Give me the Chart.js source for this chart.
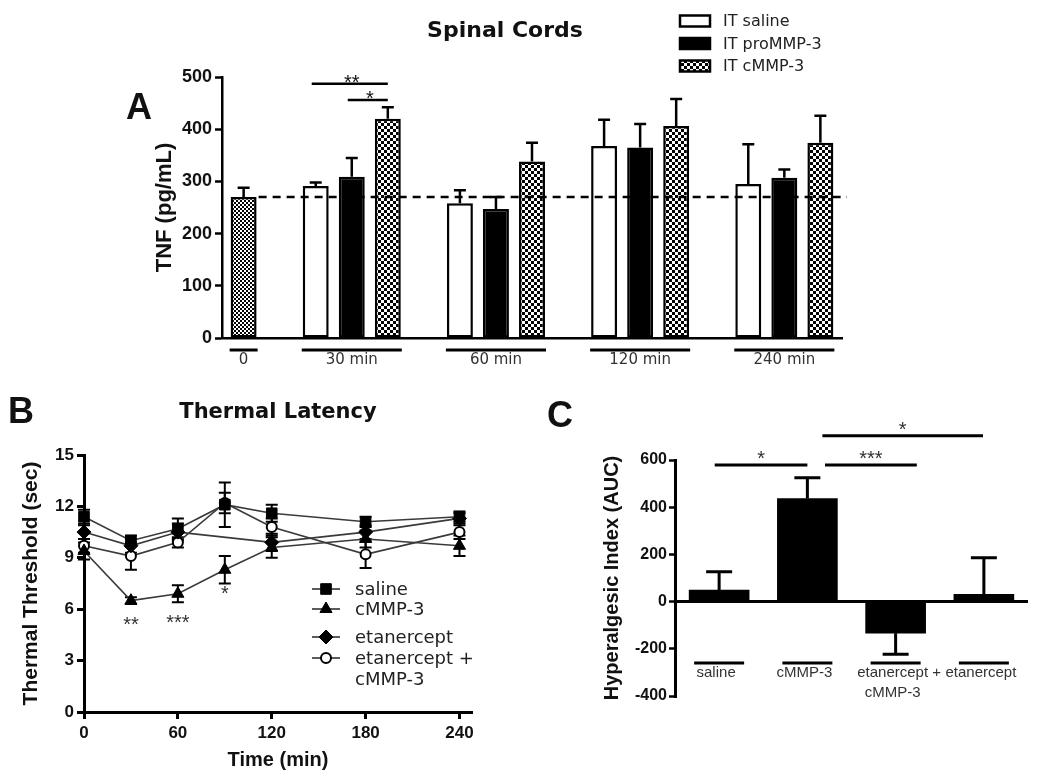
<!DOCTYPE html>
<html>
<head>
<meta charset="utf-8">
<script src="https://cdn.jsdelivr.net/npm/chart.js@4.4.1/dist/chart.umd.min.js"></script>
<style>
  html, body { margin: 0; padding: 0; background: #fff; }
  #page { position: relative; width: 1050px; height: 776px; overflow: hidden; }
  .panel { position: absolute; }
  #panelA { left: 0; top: 0; width: 1050px; height: 380px; }
  #panelB { left: 0; top: 380px; width: 520px; height: 396px; }
  #panelC { left: 520px; top: 380px; width: 530px; height: 396px; }
</style>
</head>
<body>
<div id="page">
  <div class="panel" id="panelA"><canvas id="chartA"></canvas></div>
  <div class="panel" id="panelB"><canvas id="chartB"></canvas></div>
  <div class="panel" id="panelC"><canvas id="chartC"></canvas></div>
</div>
<script>
// ---- panel A : TNF in spinal cords (mean, SEM)
const groupLabelsA = ['0', '30 min', '60 min', '120 min', '240 min'];
const baselineTNF = [270];
const baselineTNFErr = [18];
const salineTNF = [291, 258, 368, 295];
const salineTNFErr = [7, 25, 50, 76];
const proTNF = [309, 247, 365, 307];
const proTNFErr = [36, 23, 45, 16];
const cmmpTNF = [420, 338, 406, 374];
const cmmpTNFErr = [22, 36, 52, 52];
const baselineLevel = 270;
const sigA = [
    { from: 2, to: 4, y: 487, text: '**' },
    { from: 3, to: 4, y: 456, text: '*' }
];

// ---- panel B : thermal latency over time
const timesB = [0, 30, 60, 90, 120, 180, 240];
const xTicksB = [0, 60, 120, 180, 240];
const salineB = [11.4, 10.0, 10.7, 12.1, 11.6, 11.1, 11.4];
const salineBErr = [0.4, 0.3, 0.6, 1.3, 0.5, 0.3, 0.3];
const cmmpB = [9.4, 6.5, 6.9, 8.3, 9.6, 10.1, 9.7];
const cmmpBErr = [0.5, 0.2, 0.5, 0.8, 0.6, 0.5, 0.6];
const etaB = [10.5, 9.7, 10.5, null, 9.9, 10.5, 11.3];
const etaBErr = [0.4, 0.4, 0.5, null, 0.5, 0.4, 0.3];
const etaCmmpB = [9.7, 9.1, 9.9, 12.2, 10.8, 9.2, 10.5];
const etaCmmpBErr = [0.4, 0.8, 0.3, 0.6, 0.5, 0.8, 0.4];
const namesB = ['saline', 'cMMP-3', 'etanercept', ['etanercept +', 'cMMP-3']];
const starsB = [
    { x: 30, y: 5.4, text: '**' },
    { x: 60, y: 5.5, text: '***' },
    { x: 90, y: 7.2, text: '*' }
];

// ---- panel C : hyperalgesic index
const groupsC = [['saline'], ['cMMP-3'], ['etanercept +', 'cMMP-3'], ['etanercept']];
const aucC = [49, 437, -134, 31];
const aucCErr = [78, 88, 89, 155];
const sigC = [
    { from: -0.05, to: 1, y: 579, text: '*' },
    { from: 1.2, to: 2.24, y: 579, text: '***' },
    { from: 1.17, to: 2.99, y: 703, text: '*' }
];

// layout of the bars in panel A (slot units on the x scale)
const slotsA = [2, 6, 10, 14];
const groupCentersA = [0, 3, 7, 11, 15];
const groupSpansA = [[0, 0], [2, 4], [6, 8], [10, 12], [14, 16]];

const SANS = '"Liberation Sans", Arial, sans-serif';
const WIDE = '"DejaVu Sans", Verdana, sans-serif';

Chart.defaults.font.family = SANS;
Chart.defaults.color = '#111';
Chart.defaults.animation = false;

function makeChecker(cell) {
    const c = document.createElement('canvas');
    c.width = c.height = cell * 2;
    const g = c.getContext('2d');
    g.fillStyle = '#fff';
    g.fillRect(0, 0, cell * 2, cell * 2);
    g.fillStyle = '#000';
    g.fillRect(0, 0, cell, cell);
    g.fillRect(cell, cell, cell, cell);
    return g.createPattern(c, 'repeat');
}
const checker = makeChecker(3);
const fineChecker = makeChecker(2);

// error bars: one sided (direction of the mean) or both sides
function drawErrors(chart, opts) {
    const { ctx } = chart;
    const ys = chart.scales.y;
    const cap = opts.cap || 12;
    ctx.save();
    ctx.strokeStyle = '#000';
    ctx.lineWidth = opts.width || 2;
    chart.data.datasets.forEach((ds, di) => {
        if (!ds.errors) return;
        const meta = chart.getDatasetMeta(di);
        meta.data.forEach((el, i) => {
            const v = meta.controller.getParsed(i).y;
            const e = ds.errors[i];
            if (v == null || isNaN(v) || e == null) return;
            const dir = v < 0 ? -1 : 1;
            const lo = opts.both ? v - e : v;
            const hi = opts.both ? v + e : v + dir * e;
            const y1 = ys.getPixelForValue(lo), y2 = ys.getPixelForValue(hi);
            ctx.beginPath();
            ctx.moveTo(el.x, y1);
            ctx.lineTo(el.x, y2);
            ctx.moveTo(el.x - cap / 2, y2);
            ctx.lineTo(el.x + cap / 2, y2);
            if (opts.both) {
                ctx.moveTo(el.x - cap / 2, y1);
                ctx.lineTo(el.x + cap / 2, y1);
            }
            ctx.stroke();
        });
    });
    ctx.restore();
}
const errorBars = {
    id: 'errorBars',
    beforeDatasetsDraw(chart, args, opts) { if (opts.under) drawErrors(chart, opts); },
    afterDatasetsDraw(chart, args, opts) { if (!opts.under) drawErrors(chart, opts); }
};

function put(ctx, str, x, y, font, align, color, base) {
    ctx.font = font;
    ctx.textAlign = align || 'left';
    ctx.textBaseline = base || 'alphabetic';
    ctx.fillStyle = color || '#111';
    ctx.fillText(str, x, y);
}

// ---------------- panel A
const decorA = {
    id: 'decorA',
    afterDatasetsDraw(chart) {
        const { ctx, scales: { x, y }, chartArea } = chart;
        const yb = y.getPixelForValue(baselineLevel);
        ctx.save();
        ctx.strokeStyle = '#000';
        ctx.lineWidth = 2.5;
        ctx.setLineDash([8, 6]);
        ctx.beginPath();
        ctx.moveTo(x.getPixelForValue(0) + 15, yb);
        ctx.lineTo(chartArea.right + 5, yb);
        ctx.stroke();
        ctx.restore();
    },
    afterDraw(chart) {
        const { ctx, scales: { x, y }, chartArea } = chart;
        ctx.save();
        ctx.strokeStyle = '#000';
        ctx.lineWidth = 3;
        groupSpansA.forEach(([a, b]) => {
            ctx.beginPath();
            ctx.moveTo(x.getPixelForValue(a) - 14, chartArea.bottom + 12);
            ctx.lineTo(x.getPixelForValue(b) + 14, chartArea.bottom + 12);
            ctx.stroke();
        });
        ctx.lineWidth = 2.5;
        sigA.forEach(s => {
            const x1 = x.getPixelForValue(s.from), x2 = x.getPixelForValue(s.to);
            const yy = y.getPixelForValue(s.y);
            ctx.beginPath();
            ctx.moveTo(x1 - 4, yy);
            ctx.lineTo(x2, yy);
            ctx.stroke();
            put(ctx, s.text, (x1 + x2) / 2, yy + 5, '20px ' + SANS, 'center');
        });
        put(ctx, 'A', 126, 119, 'bold 36px ' + SANS);
        put(ctx, 'Spinal Cords', 505, 37, 'bold 22px ' + WIDE, 'center');
        // legend
        chart.data.datasets.slice(1).forEach((ds, i) => {
            const cy = 21 + i * 22.5;
            ctx.fillStyle = ds.backgroundColor;
            ctx.fillRect(680, cy - 5.5, 30, 11);
            ctx.lineWidth = 2.5;
            ctx.strokeStyle = '#000';
            ctx.strokeRect(680, cy - 5.5, 30, 11);
            put(ctx, ds.label, 723, cy + 1, '16px ' + WIDE, 'left', '#222', 'middle');
        });
        ctx.restore();
    }
};

const barStyle = {
    borderColor: '#000',
    borderWidth: 2.5,
    borderSkipped: false,
    grouped: false,
    categoryPercentage: 1,
    barPercentage: 0.72
};

new Chart(document.getElementById('chartA'), {
    type: 'bar',
    data: {
        datasets: [
            { label: 'baseline', data: baselineTNF.map(v => ({ x: 0, y: v })), errors: baselineTNFErr, backgroundColor: fineChecker, ...barStyle },
            { label: 'IT saline', data: salineTNF.map((v, i) => ({ x: slotsA[i], y: v })), errors: salineTNFErr, backgroundColor: '#fff', ...barStyle },
            { label: 'IT proMMP-3', data: proTNF.map((v, i) => ({ x: slotsA[i] + 1, y: v })), errors: proTNFErr, backgroundColor: '#000', ...barStyle },
            { label: 'IT cMMP-3', data: cmmpTNF.map((v, i) => ({ x: slotsA[i] + 2, y: v })), errors: cmmpTNFErr, backgroundColor: checker, ...barStyle }
        ]
    },
    options: {
        responsive: true,
        maintainAspectRatio: false,
        devicePixelRatio: 1,
        layout: { padding: { left: 122, right: 208, top: 77, bottom: 0 } },
        plugins: {
            legend: { display: false },
            tooltip: { enabled: false },
            errorBars: { cap: 12, width: 2.5 }
        },
        scales: {
            x: {
                type: 'linear', min: -0.6, max: 16.6, offset: false,
                afterBuildTicks: s => { s.ticks = groupCentersA.map(v => ({ value: v })); },
                afterFit: s => { s.height = 42; },
                grid: { display: false, drawTicks: false },
                border: { color: '#000', width: 2.5 },
                ticks: {
                    padding: 13, autoSkip: false, maxRotation: 0,
                    font: { family: WIDE, size: 15 }, color: '#333',
                    callback: v => groupLabelsA[groupCentersA.indexOf(v)] ?? ''
                }
            },
            y: {
                min: 0, max: 500,
                afterFit: s => { s.width = 100; },
                grid: { drawOnChartArea: false, tickLength: 7, tickColor: '#000', tickWidth: 2.5 },
                border: { color: '#000', width: 2.5 },
                ticks: { stepSize: 100, padding: 3, font: { size: 18, weight: 'bold' }, color: '#111' },
                title: { display: true, text: 'TNF (pg/mL)', font: { size: 22, weight: 'bold' }, color: '#111', padding: { top: 30 } }
            }
        }
    },
    plugins: [errorBars, decorA]
});

// ---------------- panel B
const seriesB = [
    { label: 'saline', values: salineB, errors: salineBErr, pointStyle: 'rect', radius: 7.5, fill: '#000' },
    { label: 'cMMP-3', values: cmmpB, errors: cmmpBErr, pointStyle: 'triangle', radius: 7, fill: '#000' },
    { label: 'etanercept', values: etaB, errors: etaBErr, pointStyle: 'rectRot', radius: 7, fill: '#000' },
    { label: 'etanercept + cMMP-3', values: etaCmmpB, errors: etaCmmpBErr, pointStyle: 'circle', radius: 5, fill: '#fff' }
];

const decorB = {
    id: 'decorB',
    afterDraw(chart) {
        const { ctx, scales: { x, y }, chartArea } = chart;
        ctx.save();
        put(ctx, 'B', 8, 43, 'bold 36px ' + SANS);
        put(ctx, 'Thermal Latency', (chartArea.left + chartArea.right) / 2, 38, 'bold 21px ' + WIDE, 'center');
        starsB.forEach(s => {
            put(ctx, s.text, x.getPixelForValue(s.x), y.getPixelForValue(s.y) + 11.5, '20px ' + SANS, 'center', '#333');
        });
        // legend
        const rows = [209, 229, 257, 278];
        seriesB.forEach((s, i) => {
            const cy = rows[i];
            ctx.strokeStyle = '#333';
            ctx.lineWidth = 1.6;
            ctx.beginPath();
            ctx.moveTo(312, cy);
            ctx.lineTo(340, cy);
            ctx.stroke();
            ctx.fillStyle = s.fill;
            ctx.strokeStyle = '#000';
            ctx.lineWidth = s.fill === '#fff' ? 2 : 1;
            Chart.helpers.drawPoint(ctx, { pointStyle: s.pointStyle, radius: s.radius, rotation: 0, borderWidth: ctx.lineWidth }, 326, cy);
            const name = namesB[i];
            const lines = Array.isArray(name) ? name : [name];
            lines.forEach((t, k) => put(ctx, t, 355, cy + 1 + k * 21, '18px ' + WIDE, 'left', '#222', 'middle'));
        });
        ctx.restore();
    }
};

new Chart(document.getElementById('chartB'), {
    type: 'line',
    data: {
        datasets: seriesB.map(s => ({
            label: s.label,
            data: timesB.map((t, i) => ({ x: t, y: s.values[i] })),
            errors: s.errors,
            borderColor: '#3a3a3a',
            borderWidth: 1.6,
            spanGaps: true,
            pointStyle: s.pointStyle,
            pointRadius: s.radius,
            pointBackgroundColor: s.fill,
            pointBorderColor: '#000',
            pointBorderWidth: s.fill === '#fff' ? 2 : 1,
            clip: false
        }))
    },
    options: {
        responsive: true,
        maintainAspectRatio: false,
        devicePixelRatio: 1,
        layout: { padding: { left: 14, right: 48, top: 75, bottom: 4 } },
        plugins: {
            legend: { display: false },
            tooltip: { enabled: false },
            errorBars: { cap: 12, width: 2, both: true, under: true }
        },
        scales: {
            x: {
                type: 'linear', min: 0, max: 248,
                afterBuildTicks: s => { s.ticks = xTicksB.map(v => ({ value: v })); },
                afterFit: s => { s.height = 60; },
                grid: { drawOnChartArea: false, tickLength: 7, tickColor: '#000', tickWidth: 3 },
                border: { color: '#000', width: 3 },
                ticks: { padding: 4, maxRotation: 0, font: { size: 17, weight: 'bold' }, color: '#111' },
                title: { display: true, text: 'Time (min)', font: { size: 20, weight: 'bold' }, color: '#111', padding: { top: 0, bottom: 0 } }
            },
            y: {
                min: 0, max: 15,
                afterFit: s => { s.width = 70; },
                grid: { drawOnChartArea: false, tickLength: 7, tickColor: '#000', tickWidth: 3 },
                border: { color: '#000', width: 3 },
                ticks: { stepSize: 3, padding: 3, font: { size: 17, weight: 'bold' }, color: '#111' },
                title: { display: true, text: 'Thermal Threshold (sec)', font: { size: 21, weight: 'bold' }, color: '#111', padding: { top: 5 } }
            }
        }
    },
    plugins: [errorBars, decorB]
});

// ---------------- panel C
const decorC = {
    id: 'decorC',
    afterDraw(chart) {
        const { ctx, scales: { x, y } } = chart;
        const labelFont = '15px ' + SANS;
        ctx.save();
        put(ctx, 'C', 27, 47, 'bold 36px ' + SANS);
        ctx.strokeStyle = '#000';
        ctx.lineWidth = 3;
        groupsC.forEach((lines, i) => {
            const cx = x.getPixelForValue(i);
            ctx.beginPath();
            ctx.moveTo(cx - 25, 283);
            ctx.lineTo(cx + 25, 283);
            ctx.stroke();
            lines.forEach((t, k) => {
                // keep the word centred under the bar when a trailing "+" follows it
                let shift = 0;
                if (t.endsWith(' +')) {
                    ctx.font = labelFont;
                    shift = (ctx.measureText(t).width - ctx.measureText(t.slice(0, -2)).width) / 2;
                }
                put(ctx, t, cx + shift - 3, 293 + k * 20, labelFont, 'center', '#333', 'middle');
            });
        });
        ctx.lineWidth = 3;
        sigC.forEach(s => {
            const x1 = x.getPixelForValue(s.from), x2 = x.getPixelForValue(s.to);
            const yy = y.getPixelForValue(s.y);
            ctx.beginPath();
            ctx.moveTo(x1, yy);
            ctx.lineTo(x2, yy);
            ctx.stroke();
            put(ctx, s.text, (x1 + x2) / 2, yy, '20px ' + SANS, 'center', '#333');
        });
        ctx.restore();
    }
};

new Chart(document.getElementById('chartC'), {
    type: 'bar',
    data: {
        labels: groupsC.map(l => l.join(' ')),
        datasets: [{
            label: 'Hyperalgesic Index',
            data: aucC,
            errors: aucCErr,
            backgroundColor: '#000',
            borderColor: '#000',
            borderWidth: 0,
            barThickness: 60
        }]
    },
    options: {
        responsive: true,
        maintainAspectRatio: false,
        devicePixelRatio: 1,
        layout: { padding: { left: 55, right: 22, top: 80, bottom: 80 } },
        plugins: {
            legend: { display: false },
            tooltip: { enabled: false },
            errorBars: { cap: 26, width: 3 }
        },
        scales: {
            x: { display: false },
            y: {
                min: -400, max: 600,
                afterFit: s => { s.width = 100; },
                grid: {
                    drawOnChartArea: true,
                    color: c => (c.tick && c.tick.value === 0 ? '#000' : 'rgba(0,0,0,0)'),
                    lineWidth: 3,
                    tickColor: '#000',
                    tickWidth: 2.5,
                    tickLength: 6
                },
                border: { color: '#000', width: 3 },
                ticks: { stepSize: 200, padding: 2, font: { size: 16, weight: 'bold' }, color: '#111' },
                title: { display: true, text: 'Hyperalgesic Index (AUC)', font: { size: 20, weight: 'bold' }, color: '#111', padding: { top: 25 } }
            }
        }
    },
    plugins: [errorBars, decorC]
});
</script>
</body>
</html>
